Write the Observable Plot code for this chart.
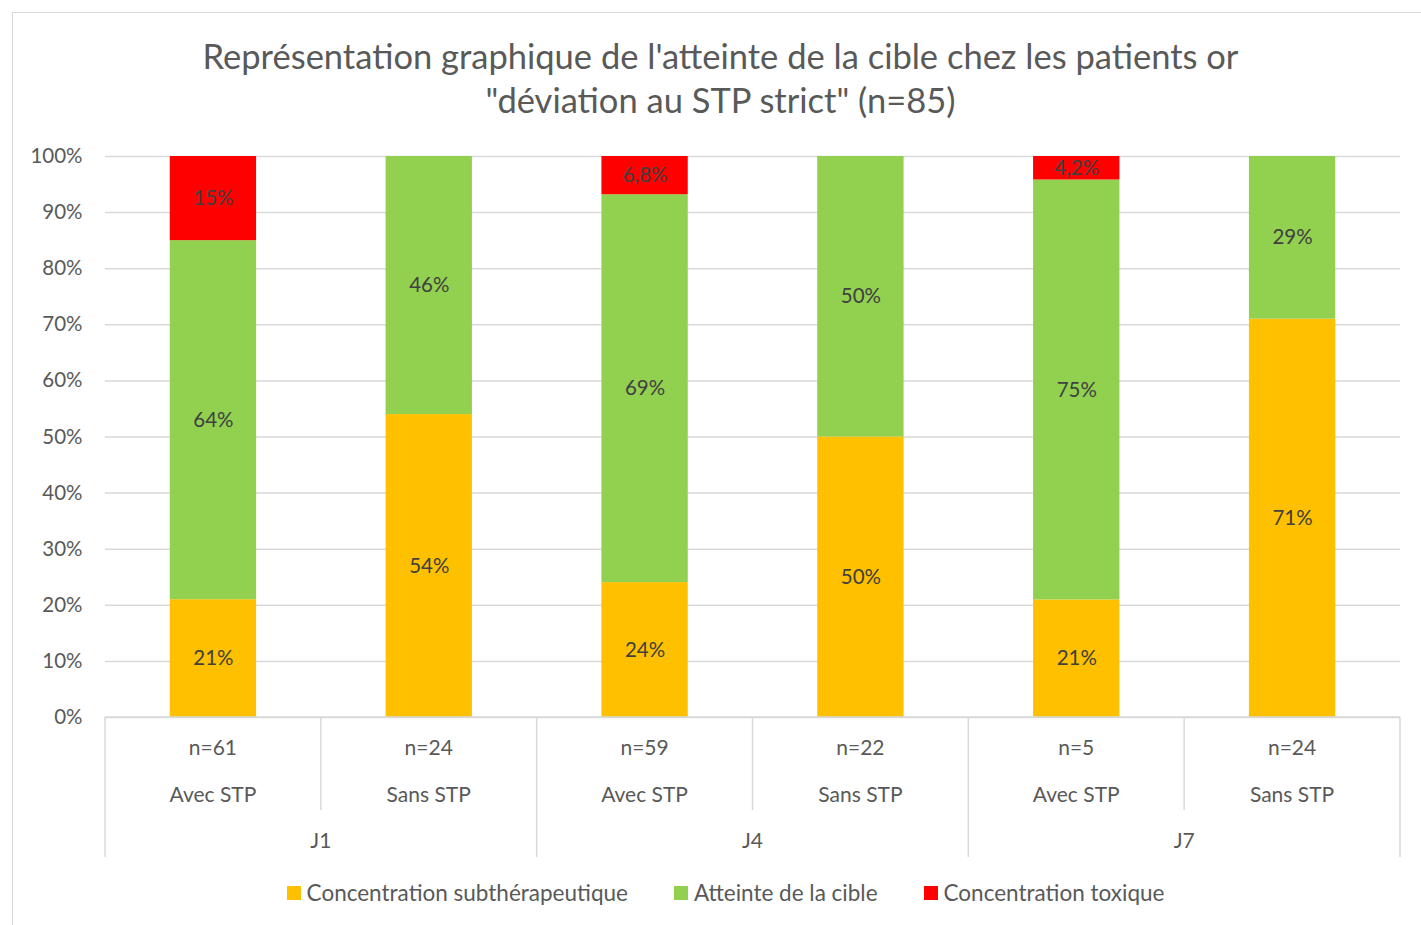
<!DOCTYPE html>
<html>
<head>
<meta charset="utf-8">
<script src="https://cdn.jsdelivr.net/npm/d3@7"></script>
<script src="https://cdn.jsdelivr.net/npm/@observablehq/plot@0.6"></script>
<style>
  html, body { margin: 0; padding: 0; background: #fff; }
  #page { position: relative; width: 1421px; height: 925px; overflow: hidden; font-family: Lato, "Open Sans", sans-serif; color: #595959; }
  #frame { position: absolute; left: 12px; top: 12px; width: 1430px; height: 930px; border: 1.5px solid #d9d9d9; box-sizing: border-box; }
  #title { position: absolute; left: 0; top: 34px; width: 1441px; text-align: center; font-size: 34.5px; line-height: 44px; }
  #chart { position: absolute; left: 0; top: 140px; }
  #legend { position: absolute; left: 0; top: 879px; width: 1451px; display: flex; justify-content: center; gap: 46px; font-size: 22.5px; line-height: 28px; }
  #legend .item { display: flex; align-items: center; }
  #legend .sw { width: 14px; height: 14px; margin-right: 6px; }
</style>
</head>
<body>
<div id="page">
  <div id="frame"></div>
  <div id="title">Représentation graphique de l'atteinte de la cible chez les patients or<br>"déviation au STP strict" (n=85)</div>
  <div id="chart"></div>
  <div id="legend"></div>
</div>
<script>
// ---- Data ----
const groups = ["J1", "J1", "J4", "J4", "J7", "J7"];
const subgroups = ["Avec STP", "Sans STP", "Avec STP", "Sans STP", "Avec STP", "Sans STP"];
const counts = ["n=61", "n=24", "n=59", "n=22", "n=5", "n=24"];
const subtherapeutique = [21, 54, 24, 50, 21, 71];
const atteinteCible = [64, 46, 69, 50, 75, 29];
const toxique = [15, 0, 6.8, 0, 4.2, 0];
const seriesNames = ["Concentration subthérapeutique", "Atteinte de la cible", "Concentration toxique"];
const seriesColors = ["#FFC000", "#92D050", "#FF0000"];
const yTicks = [0, 0.1, 0.2, 0.3, 0.4, 0.5, 0.6, 0.7, 0.8, 0.9, 1];

// ---- Build table ----
const keys = groups.map((g, i) => g + "|" + subgroups[i]);
const seriesValues = [subtherapeutique, atteinteCible, toxique];
const rows = [];
keys.forEach((k, i) => {
  seriesNames.forEach((s, j) => rows.push({key: k, series: s, value: seriesValues[j][i]}));
});
const fmt = v => (Number.isInteger(v) ? String(v) : v.toFixed(1).replace(".", ",")) + "%";

const FONT = "Lato, 'Open Sans', sans-serif";
const TEXT = "#595959";
const AXFS = 21;

// custom bottom multi-level axis drawn through the x scale
function categoryAxis(index, scales, values, dims) {
  const x = scales.x;
  const step = x(keys[1]) - x(keys[0]);
  const bw = x.bandwidth ? x.bandwidth() : step * 0.4;
  const y0 = dims.height - dims.marginBottom;
  const g = d3.create("svg:g")
    .attr("font-family", FONT)
    .attr("fill", TEXT)
    .attr("text-anchor", "middle");
  g.append("line")
    .attr("x1", dims.marginLeft).attr("x2", dims.width - dims.marginRight)
    .attr("y1", y0).attr("y2", y0)
    .attr("stroke", "#d9d9d9").attr("stroke-width", 1.5);
  keys.forEach((k, i) => {
    const cx = x(k) + bw / 2;
    const left = cx - step / 2;
    const isGroupStart = i === 0 || groups[i] !== groups[i - 1];
    g.append("line")
      .attr("x1", left).attr("x2", left)
      .attr("y1", y0).attr("y2", y0 + (isGroupStart ? 140 : 93))
      .attr("stroke", "#d9d9d9").attr("stroke-width", 1.5);
    g.append("text").attr("x", cx).attr("y", y0 + 31).attr("dy", "0.35em")
      .attr("font-size", AXFS).text(counts[i]);
    g.append("text").attr("x", cx).attr("y", y0 + 78).attr("dy", "0.35em")
      .attr("font-size", AXFS).text(subgroups[i]);
  });
  const lastCx = x(keys[keys.length - 1]) + bw / 2;
  g.append("line")
    .attr("x1", lastCx + step / 2).attr("x2", lastCx + step / 2)
    .attr("y1", y0).attr("y2", y0 + 140)
    .attr("stroke", "#d9d9d9").attr("stroke-width", 1.5);
  const uniq = [...new Set(groups)];
  uniq.forEach(gname => {
    const idx = groups.map((g2, i) => g2 === gname ? i : -1).filter(i => i >= 0);
    const a = x(keys[idx[0]]) + bw / 2, b = x(keys[idx[idx.length - 1]]) + bw / 2;
    g.append("text").attr("x", (a + b) / 2).attr("y", y0 + 124).attr("dy", "0.35em")
      .attr("font-size", AXFS).text(gname);
  });
  return g.node();
}

const chart = Plot.plot({
  width: 1421,
  height: 730,
  marginLeft: 105,
  marginRight: 21,
  marginTop: 16,
  marginBottom: 153,
  style: {fontFamily: FONT, color: TEXT, background: "transparent", overflow: "visible"},
  x: {domain: keys, paddingInner: 0.6, paddingOuter: 0.3, round: false, axis: null},
  y: {domain: [0, 1], axis: null},
  color: {domain: seriesNames, range: seriesColors},
  marks: [
    Plot.gridY(yTicks, {stroke: "#d9d9d9", strokeOpacity: 1, strokeWidth: 1.5}),
    Plot.axisY(yTicks, {tickFormat: d3.format(".0%"), tickSize: 0, tickPadding: 23, fontSize: 20.5, fill: TEXT, label: null}),
    Plot.barY(rows, Plot.stackY({x: "key", y: "value", fill: "series", order: seriesNames, offset: "normalize"})),
    Plot.text(rows.filter(d => d.value > 0), Plot.stackY({
      x: "key", y: "value", z: "series", order: seriesNames, offset: "normalize",
      text: d => fmt(d.value), fill: "#404040", fontSize: 20.5
    })),
    categoryAxis
  ]
});
document.getElementById("chart").appendChild(chart);

// legend
const legend = document.getElementById("legend");
seriesNames.forEach((s, i) => {
  const item = document.createElement("div");
  item.className = "item";
  const sw = document.createElement("span");
  sw.className = "sw";
  sw.style.background = seriesColors[i];
  const lab = document.createElement("span");
  lab.textContent = s;
  item.appendChild(sw); item.appendChild(lab);
  legend.appendChild(item);
});
</script>
</body>
</html>
